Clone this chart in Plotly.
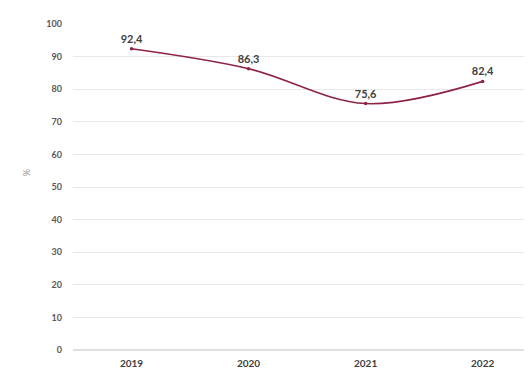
import plotly.graph_objects as go

years = ["2019", "2020", "2021", "2022"]
values = [92.4, 86.3, 75.6, 82.4]
labels = ["92,4", "86,3", "75,6", "82,4"]
y_ticks = [0, 10, 20, 30, 40, 50, 60, 70, 80, 90, 100]

fig = go.Figure()
fig.add_trace(go.Scatter(
    x=years, y=values,
    mode="lines+markers+text",
    line=dict(color="#8E2443", width=1.6, shape="spline", smoothing=1.0),
    marker=dict(size=3.5, color="#8E2443"),
    text=labels, textposition="top center",
    textfont=dict(family="Lato, Open Sans, sans-serif", size=11, color="#404040", weight="bold"),
    cliponaxis=False,
))

fig.add_annotation(
    text="%", xref="paper", yref="paper", x=-0.115, y=0.545,
    showarrow=False, textangle=-90,
    font=dict(family="Lato, Open Sans, sans-serif", size=9, color="#909090"),
)

fig.update_layout(
    width=532, height=379,
    margin=dict(l=65, r=0, t=16, b=37),
    paper_bgcolor="white", plot_bgcolor="white",
    showlegend=False,
    font=dict(family="Lato, Open Sans, sans-serif", color="#595959"),
    xaxis=dict(
        type="category", range=[-0.5, 3.49], automargin=False,
        showgrid=False, showline=False, zeroline=False,
        tickfont=dict(size=10, color="#404040", weight="bold"),
        ticks="", ticklabelstandoff=6,
    ),
    yaxis=dict(
        range=[0, 100], tickvals=y_ticks, automargin=False,
        showgrid=True, gridcolor="#E8E8E8", gridwidth=1,
        zeroline=True, zerolinecolor="#E0E0E0",
        showline=False, ticks="",
        tickfont=dict(size=9, color="#595959", weight="bold"),
        ticklabelstandoff=10,
    ),
)

fig.write_html("out.html")
